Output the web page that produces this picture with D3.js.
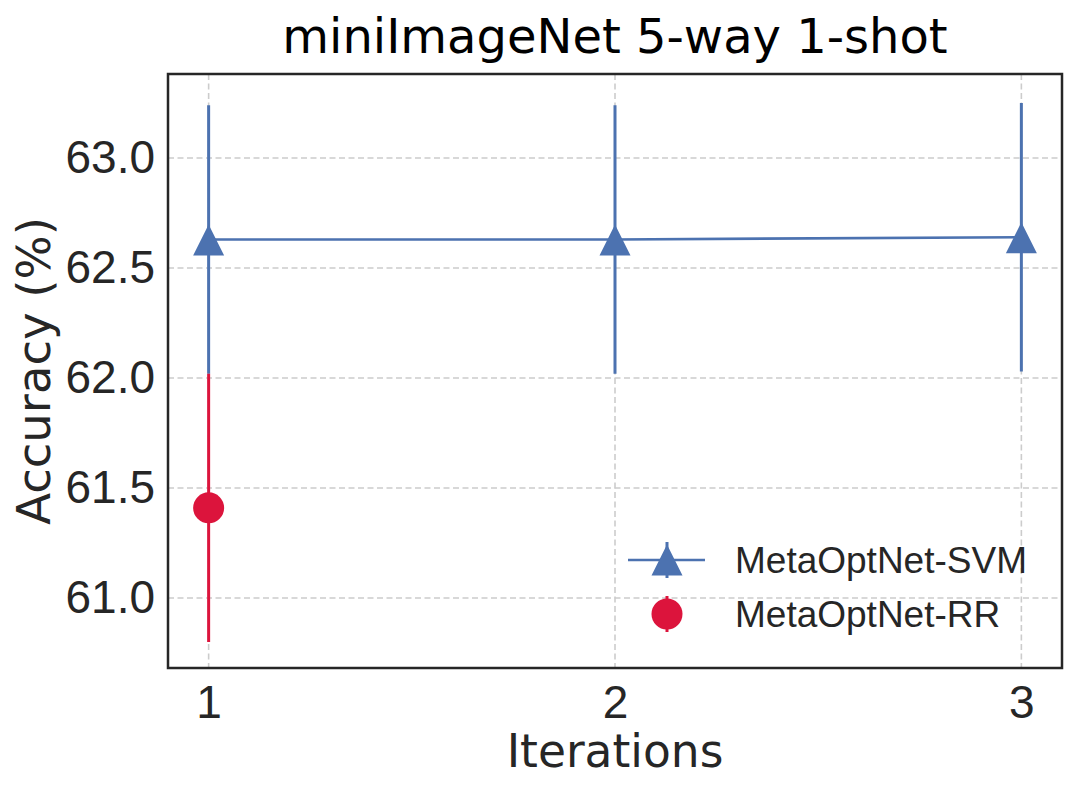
<!DOCTYPE html>
<html><head><meta charset="utf-8">
<script src="https://cdn.jsdelivr.net/npm/d3@7"></script>
<style>body{margin:0;background:#fff}</style>
</head><body>
<svg id="chart" width="1079" height="791"></svg>
<script>
const iterations = [1, 2, 3];
const svmMean = [62.63, 62.63, 62.64];
const svmErr = [0.61, 0.61, 0.61];
const rrIter = [1];
const rrMean = [61.41];
const rrErr = [0.61];
const yTicks = [61.0, 61.5, 62.0, 62.5, 63.0];
const xTicks = [1, 2, 3];
const seriesNames = ["MetaOptNet-SVM", "MetaOptNet-RR"];

const svg = d3.select("#chart");
const L = 168, R = 1062, T = 74, B = 668;
const x = d3.scaleLinear().domain([0.9, 3.1]).range([L, R]);
const y = d3.scaleLinear().domain([60.682, 63.382]).range([B, T]);
const blue = "#4C72B0", red = "#DC143C";
const tickFont = "Liberation Sans, Arial, sans-serif";
const labFont = "DejaVu Sans, sans-serif";

// grid
const g = svg.append("g");
g.selectAll(".gy").data(yTicks).enter().append("line")
  .attr("x1", L).attr("x2", R).attr("y1", d => y(d)).attr("y2", d => y(d))
  .attr("stroke", "#cccccc").attr("stroke-width", 1.6).attr("stroke-dasharray", "6,3.5");
g.selectAll(".gx").data(xTicks).enter().append("line")
  .attr("y1", T).attr("y2", B).attr("x1", d => x(d)).attr("x2", d => x(d))
  .attr("stroke", "#cccccc").attr("stroke-width", 1.6).attr("stroke-dasharray", "6,3.5");

// axes (labels only)
const yAxis = d3.axisLeft(y).tickValues(yTicks).tickFormat(d3.format(".1f")).tickSize(0).tickPadding(13);
const ya = svg.append("g").attr("transform", `translate(${L},0)`).call(yAxis);
ya.select(".domain").remove();
ya.selectAll("text").attr("font-family", tickFont).attr("font-size", 46).attr("fill", "#262626");
const xAxis = d3.axisBottom(x).tickValues(xTicks).tickFormat(d3.format("d")).tickSize(0).tickPadding(17);
const xa = svg.append("g").attr("transform", `translate(0,${B})`).call(xAxis);
xa.select(".domain").remove();
xa.selectAll("text").attr("font-family", tickFont).attr("font-size", 46).attr("fill", "#262626");

// SVM series
const svmData = iterations.map((d, i) => ({x: d, m: svmMean[i], e: svmErr[i]}));
svg.append("path").datum(svmData)
  .attr("d", d3.line().x(d => x(d.x)).y(d => y(d.m)))
  .attr("fill", "none").attr("stroke", blue).attr("stroke-width", 2.6);
svg.selectAll(".svmerr").data(svmData).enter().append("line")
  .attr("x1", d => x(d.x)).attr("x2", d => x(d.x))
  .attr("y1", d => y(d.m - d.e)).attr("y2", d => y(d.m + d.e))
  .attr("stroke", blue).attr("stroke-width", 3);
const tri = s => `M0,${-s} L${s},${s} L${-s},${s} Z`;
svg.selectAll(".svmpt").data(svmData).enter().append("path")
  .attr("d", tri(15.5))
  .attr("transform", d => `translate(${x(d.x)},${y(d.m) + 0.5})`)
  .attr("fill", blue);

// RR series
const rrData = rrIter.map((d, i) => ({x: d, m: rrMean[i], e: rrErr[i]}));
svg.selectAll(".rrerr").data(rrData).enter().append("line")
  .attr("x1", d => x(d.x)).attr("x2", d => x(d.x))
  .attr("y1", d => y(d.m - d.e)).attr("y2", d => y(d.m + d.e))
  .attr("stroke", red).attr("stroke-width", 3);
svg.selectAll(".rrpt").data(rrData).enter().append("circle")
  .attr("cx", d => x(d.x)).attr("cy", d => y(d.m)).attr("r", 15.5)
  .attr("fill", red);

// frame
svg.append("rect").attr("x", L).attr("y", T).attr("width", R - L).attr("height", B - T)
  .attr("fill", "none").attr("stroke", "#262626").attr("stroke-width", 2.5);

// title and labels
svg.append("text").attr("x", (L + R) / 2).attr("y", 53).attr("text-anchor", "middle")
  .attr("font-family", labFont).attr("font-size", 48).attr("fill", "#000")
  .text("miniImageNet 5-way 1-shot");
svg.append("text").attr("x", (L + R) / 2).attr("y", 767).attr("text-anchor", "middle")
  .attr("font-family", labFont).attr("font-size", 45.5).attr("fill", "#262626")
  .text("Iterations");
svg.append("text").attr("transform", `translate(50,${(T + B) / 2}) rotate(-90)`)
  .attr("text-anchor", "middle")
  .attr("font-family", labFont).attr("font-size", 46.5).attr("fill", "#262626")
  .text("Accuracy (%)");

// legend
const lg = svg.append("g");
const legY = [560, 614];
lg.append("line").attr("x1", 628).attr("x2", 705).attr("y1", legY[0]).attr("y2", legY[0])
  .attr("stroke", blue).attr("stroke-width", 2.6);
lg.append("line").attr("x1", 667).attr("x2", 667).attr("y1", legY[0] - 18).attr("y2", legY[0] + 18)
  .attr("stroke", blue).attr("stroke-width", 3);
lg.append("path").attr("d", tri(15.5)).attr("transform", `translate(667,${legY[0]})`).attr("fill", blue);
lg.append("line").attr("x1", 667).attr("x2", 667).attr("y1", legY[1] - 18).attr("y2", legY[1] + 18)
  .attr("stroke", red).attr("stroke-width", 3);
lg.append("circle").attr("cx", 667).attr("cy", legY[1]).attr("r", 15.5).attr("fill", red);
lg.selectAll(".lt").data(seriesNames).enter().append("text")
  .attr("x", 735).attr("y", (d, i) => legY[i] + 13)
  .attr("font-family", tickFont).attr("font-size", 37).attr("fill", "#262626")
  .text(d => d);
</script>
</body></html>
